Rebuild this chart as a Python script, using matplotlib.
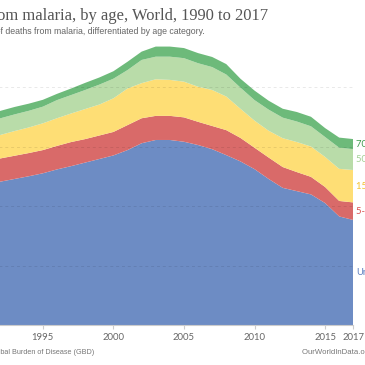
import matplotlib
matplotlib.use("Agg")
import matplotlib.pyplot as plt
import numpy as np

years = list(range(1990, 2018))

# deaths in thousands
under5 = [463, 472, 482, 491, 500, 510, 523, 534, 546, 558, 570, 588, 611, 622, 622, 616,
          605, 591, 571, 550, 524, 491, 461, 450, 439, 410, 365, 353]
age5_14 = [78, 78, 78, 78, 78, 78, 79, 81, 79, 79, 79, 84, 84, 81, 81, 82,
           78, 78, 84, 79, 72, 72, 70, 64, 59, 54, 52, 59]
age15_49 = [72, 75, 79, 83, 86, 90, 93, 96, 101, 104, 113, 123, 118, 123, 121, 120,
            118, 121, 113, 98, 91, 90, 97, 101, 102, 101, 108, 109]
age50_69 = [55, 56, 56, 56, 56, 56, 61, 62, 64, 67, 66, 62, 78, 76, 78, 79,
            79, 77, 74, 71, 69, 71, 69, 69, 68, 67, 71, 70]
age70 = [27, 26, 25, 25, 24, 23, 21, 22, 24, 24, 25, 28, 28, 34, 34, 34,
         34, 34, 35, 30, 32, 30, 30, 32, 32, 30, 34, 34]

series = [under5, age5_14, age15_49, age50_69, age70]
labels = ["Under-5s", "5-14 years", "15-49 years", "50-69 years", "70+ years"]
colors = ["#6D8CC4", "#D96A69", "#FEDE75", "#B9DCA9", "#6DBA7A"]
label_colors = ["#5B7DBF", "#D9504F", "#F3C230", "#A3D094", "#3E9A4D"]

xticks = [1990, 1995, 2000, 2005, 2010, 2015, 2017]

fig = plt.figure(figsize=(3.65, 3.65), dpi=100)
# chart is shown cropped: the 1990 edge and y labels sit left of the image
ax = fig.add_axes([-27.7 / 365, 40 / 365, 381 / 365, 282.6 / 365])

ax.stackplot(years, *series, colors=colors, linewidth=0)

ax.set_xlim(1990, 2017)
ax.set_ylim(0, 950)
for v in [200, 400, 600, 800]:
    ax.axhline(v, color="black", alpha=0.09, lw=0.7, ls=(0, (3, 3)), zorder=5)

for s in ["top", "right", "left"]:
    ax.spines[s].set_visible(False)
ax.spines["bottom"].set_color("#cccccc")
ax.spines["bottom"].set_linewidth(0.8)
ax.set_yticks([])
ax.set_xticks(xticks)
ax.set_xticklabels([str(y) for y in xticks])
ax.tick_params(axis="x", length=3, color="#cccccc", labelcolor="#666666",
               labelsize=6.8, pad=3)
for t in ax.get_xticklabels():
    t.set_family("Lato")

# labels at the right end, centred in each band
cum = np.cumsum([s[-1] for s in series])
for i, lab in enumerate(labels):
    ymid = cum[i] - series[i][-1] / 2
    ax.text(2017.2, ymid, lab, color=label_colors[i], fontsize=6.8,
            family="Lato", va="center", ha="left", clip_on=False)

fig.text(268 / 365, 1 - 16 / 365, "Deaths from malaria, by age, World, 1990 to 2017",
         family="Liberation Serif", fontsize=11.9, color="#555555",
         ha="right", va="center")
fig.text(205 / 365, 1 - 32 / 365,
         "Number of deaths from malaria, differentiated by age category.",
         family="Liberation Sans", fontsize=6.35, color="#666666",
         ha="right", va="center")
fig.text(94 / 365, 1 - 352.5 / 365, "Source: IHME, Global Burden of Disease (GBD)",
         family="Liberation Sans", fontsize=5.2, color="#777777",
         ha="right", va="center")
fig.text(302 / 365, 1 - 352.5 / 365, "OurWorldInData.org/malaria \u2022 CC BY",
         family="Liberation Sans", fontsize=5.6, color="#777777",
         ha="left", va="center")

fig.savefig("out.png", dpi=100)
